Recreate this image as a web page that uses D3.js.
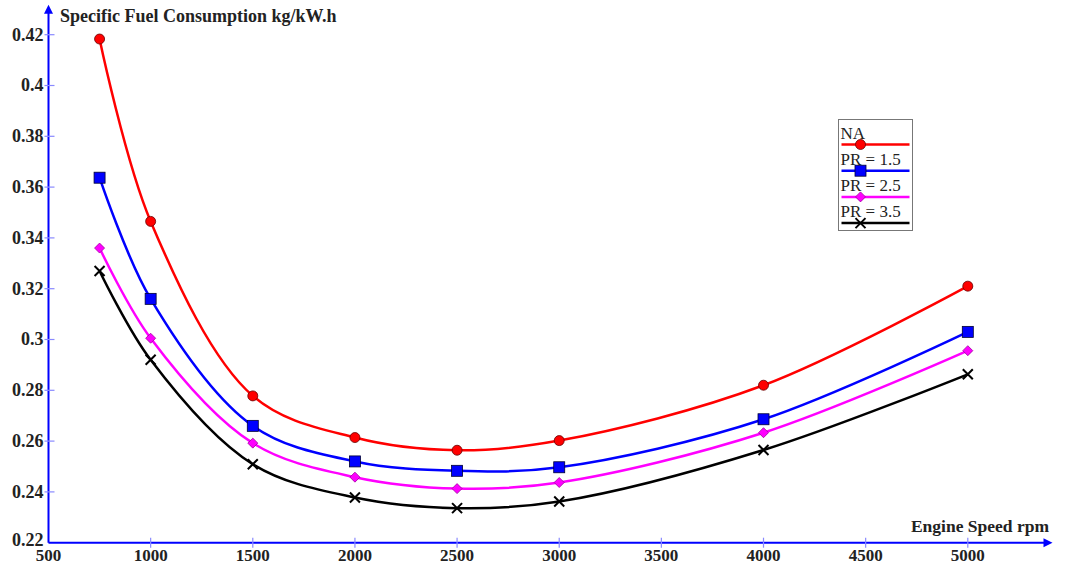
<!DOCTYPE html>
<html>
<head>
<meta charset="utf-8">
<script src="https://cdn.jsdelivr.net/npm/d3@7"></script>
<style>
  body { margin: 0; background: #fff; }
  svg text { font-family: "Liberation Serif", "DejaVu Serif", serif; }
</style>
</head>
<body>
<svg id="chart"></svg>
<script>
// engine speed (rpm)
var speeds = [750, 1000, 1500, 2000, 2500, 3000, 4000, 5000];
var seriesNames = ["NA", "PR = 1.5", "PR = 2.5", "PR = 3.5"];
var sfcNA   = [0.4183, 0.3465, 0.2778, 0.2614, 0.2564, 0.2602, 0.2820, 0.3210];
var sfcPR15 = [0.3637, 0.3160, 0.2660, 0.2520, 0.2483, 0.2497, 0.2686, 0.3030];
var sfcPR25 = [0.3360, 0.3005, 0.2592, 0.2458, 0.2413, 0.2437, 0.2633, 0.2956];
var sfcPR35 = [0.3270, 0.2920, 0.2509, 0.2378, 0.2336, 0.2362, 0.2565, 0.2863];
var xTicks = [500, 1000, 1500, 2000, 2500, 3000, 3500, 4000, 4500, 5000];
var yTicks = [0.22, 0.24, 0.26, 0.28, 0.3, 0.32, 0.34, 0.36, 0.38, 0.4, 0.42];

var dimensions = {
    width: 1069,
    height: 566,
    margins: { top: 34.7, right: 101, bottom: 23.3, left: 48.5 }
};

var svg = d3.select("#chart")
    .attr("width", dimensions.width)
    .attr("height", dimensions.height);

var innerH = dimensions.height - dimensions.margins.top - dimensions.margins.bottom;

var g = svg.append("g")
    .attr("transform", "translate(" + dimensions.margins.left + "," + dimensions.margins.top + ")");

// 500..5000 spans 9 x 102.15 px
var xScale = d3.scaleLinear().domain([500, 5000]).range([0, 919.3]);
var yScale = d3.scaleLinear().domain([0.22, 0.42]).range([innerH, 0]);

var seriesList = [
    { name: seriesNames[0], values: sfcNA,   color: "#ff0000", marker: "circle" },
    { name: seriesNames[1], values: sfcPR15, color: "#0000ff", marker: "square" },
    { name: seriesNames[2], values: sfcPR25, color: "#ff00ff", marker: "diamond" },
    { name: seriesNames[3], values: sfcPR35, color: "#000000", marker: "cross" }
];

var axisColor = "#0000ff";
var tickColor = "#8a8aff";

// y axis line + arrow
g.append("line")
    .attr("x1", 0).attr("x2", 0)
    .attr("y1", innerH).attr("y2", -26)
    .attr("stroke", axisColor).attr("stroke-width", 2);
g.append("path")
    .attr("d", "M0,-30 L-4.5,-21 L4.5,-21 Z")
    .attr("fill", axisColor);

// x axis line + arrow
g.append("line")
    .attr("x1", 0).attr("x2", 998)
    .attr("y1", innerH).attr("y2", innerH)
    .attr("stroke", axisColor).attr("stroke-width", 2);
g.append("path")
    .attr("d", "M1004," + innerH + " L995," + (innerH - 4.5) + " L995," + (innerH + 4.5) + " Z")
    .attr("fill", axisColor);

// y ticks
g.selectAll(".ytick")
    .data(yTicks.slice(1))
    .enter()
    .append("line")
    .attr("x1", -4).attr("x2", 6)
    .attr("y1", d => yScale(d)).attr("y2", d => yScale(d))
    .attr("stroke", tickColor).attr("stroke-width", 1.2);

g.selectAll(".ylabel")
    .data(yTicks)
    .enter()
    .append("text")
    .attr("x", -5)
    .attr("y", d => yScale(d) + (d === 0.22 ? 3 : 6))
    .attr("text-anchor", "end")
    .style("font-size", "18px")
    .style("font-weight", "bold")
    .attr("fill", "#222")
    .text(d => +d.toFixed(2));

// x ticks
g.selectAll(".xtick")
    .data(xTicks.slice(1))
    .enter()
    .append("line")
    .attr("x1", d => xScale(d)).attr("x2", d => xScale(d))
    .attr("y1", innerH - 5).attr("y2", innerH + 5)
    .attr("stroke", tickColor).attr("stroke-width", 1.2);

g.selectAll(".xlabel")
    .data(xTicks)
    .enter()
    .append("text")
    .attr("x", d => xScale(d))
    .attr("y", innerH + 18.5)
    .attr("text-anchor", "middle")
    .style("font-size", "17px")
    .style("font-weight", "bold")
    .attr("fill", "#222")
    .text(d => d);

// axis titles
svg.append("text")
    .attr("x", 60)
    .attr("y", 22)
    .style("font-size", "18px")
    .style("font-weight", "bold")
    .attr("fill", "#222")
    .text("Specific Fuel Consumption kg/kW.h");

svg.append("text")
    .attr("x", 1049)
    .attr("y", 532)
    .attr("text-anchor", "end")
    .style("font-size", "17.5px")
    .style("font-weight", "bold")
    .attr("fill", "#222")
    .text("Engine Speed rpm");

// markers
function drawMarker(sel, type, color) {
    if (type === "circle") {
        sel.append("circle").attr("r", 5)
            .attr("fill", color).attr("stroke", "#600").attr("stroke-width", 0.8);
    } else if (type === "square") {
        sel.append("rect").attr("x", -5.5).attr("y", -5.5).attr("width", 11).attr("height", 11)
            .attr("fill", color).attr("stroke", "#003").attr("stroke-width", 0.8);
    } else if (type === "diamond") {
        sel.append("path").attr("d", "M0,-5 L5,0 L0,5 L-5,0 Z")
            .attr("fill", color).attr("stroke", "#a000a0").attr("stroke-width", 0.8);
    } else {
        sel.append("path").attr("d", "M-5,-5 L5,5 M-5,5 L5,-5")
            .attr("stroke", color).attr("stroke-width", 2).attr("fill", "none");
    }
}

var line = d3.line()
    .x((d, i) => xScale(speeds[i]))
    .y(d => yScale(d))
    .curve(d3.curveCatmullRom.alpha(0.5));

seriesList.forEach(function(s) {
    g.append("path")
        .attr("d", line(s.values))
        .attr("fill", "none")
        .attr("stroke", s.color)
        .attr("stroke-width", 2.5);

    s.values.forEach(function(v, i) {
        var m = g.append("g")
            .attr("transform", "translate(" + xScale(speeds[i]) + "," + yScale(v) + ")");
        drawMarker(m, s.marker, s.color);
    });
});

// legend
var legend = svg.append("g").attr("transform", "translate(838.5,119.5)");
legend.append("rect")
    .attr("width", 74).attr("height", 111)
    .attr("fill", "#fff")
    .attr("stroke", "#777").attr("stroke-width", 1);

seriesList.forEach(function(s, i) {
    var row = legend.append("g").attr("transform", "translate(0," + (i * 26.2) + ")");
    row.append("text")
        .attr("x", 2)
        .attr("y", 19)
        .style("font-size", "17px")
        .attr("fill", "#222")
        .text(s.name);
    row.append("line")
        .attr("x1", 3).attr("x2", 71)
        .attr("y1", 25).attr("y2", 25)
        .attr("stroke", s.color).attr("stroke-width", 2.5);
    var m = row.append("g").attr("transform", "translate(22,25)");
    drawMarker(m, s.marker, s.color);
});
</script>
</body>
</html>
